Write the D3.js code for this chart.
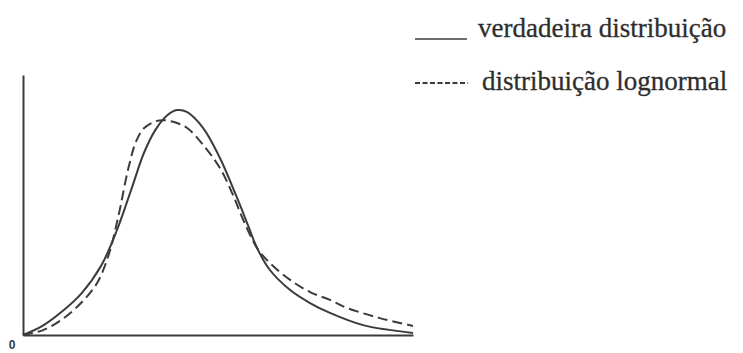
<!DOCTYPE html>
<html>
<head>
<meta charset="utf-8">
<script src="https://cdn.jsdelivr.net/npm/d3@7"></script>
<style>
  html, body { margin: 0; padding: 0; background: #fff; }
  svg { display: block; }
  .lbl { font-family: 'Liberation Serif', 'DejaVu Serif', 'Times New Roman', serif; }
</style>
</head>
<body>
<svg id="chart" width="743" height="353"></svg>
<script>
// True distribution (solid)
const trueX = [0, 0.5, 1.0, 1.5, 2.0, 2.4, 2.8, 3.1, 3.4, 3.7, 3.95, 4.2, 4.62, 5.05, 5.49, 5.8, 6.0, 6.33, 6.85, 7.36, 7.87, 8.72, 10];
const trueY = [0, 0.035, 0.09, 0.16, 0.265, 0.40, 0.57, 0.70, 0.79, 0.845, 0.865, 0.858, 0.796, 0.681, 0.527, 0.41, 0.335, 0.25, 0.173, 0.123, 0.085, 0.038, 0.008];

// Fitted lognormal distribution (dashed)
const lognormX = [0, 0.5, 1.0, 1.5, 1.9, 2.2, 2.45, 2.7, 2.9, 3.1, 3.4, 3.6, 3.85, 4.21, 4.62, 5.05, 5.38, 5.64, 6.0, 6.33, 6.85, 7.36, 7.87, 8.31, 9.15, 10];
const lognormY = [0, 0.018, 0.06, 0.125, 0.2, 0.31, 0.46, 0.64, 0.745, 0.795, 0.822, 0.826, 0.82, 0.796, 0.731, 0.642, 0.54, 0.445, 0.335, 0.277, 0.212, 0.165, 0.135, 0.104, 0.065, 0.035];

const legendLabels = ["verdadeira distribuição", "distribuição lognormal"];
const originLabel = "0";

const ink = "#3b3b3b";
const svg = d3.select("#chart");

const x = d3.scaleLinear().domain([0, 10]).range([23, 413]);
const y = d3.scaleLinear().domain([0, 1]).range([335, 75]);

// Axes: plain lines, no ticks
svg.append("g")
  .attr("transform", `translate(${x(0)},0)`)
  .call(d3.axisLeft(y).tickValues([]).tickSizeOuter(0))
  .select(".domain").attr("stroke", ink).attr("stroke-width", 2);
svg.append("g")
  .attr("transform", `translate(0,${y(0)})`)
  .call(d3.axisBottom(x).tickValues([]).tickSizeOuter(0))
  .select(".domain").attr("stroke", ink).attr("stroke-width", 2);

svg.append("text")
  .attr("x", 12).attr("y", 349)
  .attr("text-anchor", "middle")
  .attr("font-family", "'Liberation Sans', Arial, sans-serif")
  .attr("font-weight", "bold")
  .attr("font-size", 12)
  .attr("fill", ink)
  .text(originLabel);

const line = d3.line()
  .x(d => x(d[0]))
  .y(d => y(d[1]))
  .curve(d3.curveCatmullRom.alpha(0.5));

svg.append("path")
  .datum(trueX.map((v, i) => [v, trueY[i]]))
  .attr("d", line)
  .attr("fill", "none")
  .attr("stroke", ink)
  .attr("stroke-width", 2);

svg.append("path")
  .datum(lognormX.map((v, i) => [v, lognormY[i]]))
  .attr("d", line)
  .attr("fill", "none")
  .attr("stroke", ink)
  .attr("stroke-width", 2)
  .attr("stroke-dasharray", "10,5");

// Legend
const legend = svg.append("g");
legend.append("line")
  .attr("x1", 415).attr("x2", 467).attr("y1", 39).attr("y2", 39)
  .attr("stroke", ink).attr("stroke-width", 1.5);
legend.append("line")
  .attr("x1", 415).attr("x2", 468).attr("y1", 83).attr("y2", 83)
  .attr("stroke", ink).attr("stroke-width", 2)
  .attr("stroke-dasharray", "5,2.5");
legend.selectAll("text.lbl")
  .data(legendLabels)
  .join("text")
  .attr("class", "lbl")
  .attr("x", (d, i) => i === 0 ? 478 : 482)
  .attr("y", (d, i) => i === 0 ? 37 : 90)
  .attr("font-size", 27)
  .attr("fill", "#2e2e2e")
  .attr("stroke", "#2e2e2e")
  .attr("stroke-width", 0.3)
  .text(d => d);
</script>
</body>
</html>
